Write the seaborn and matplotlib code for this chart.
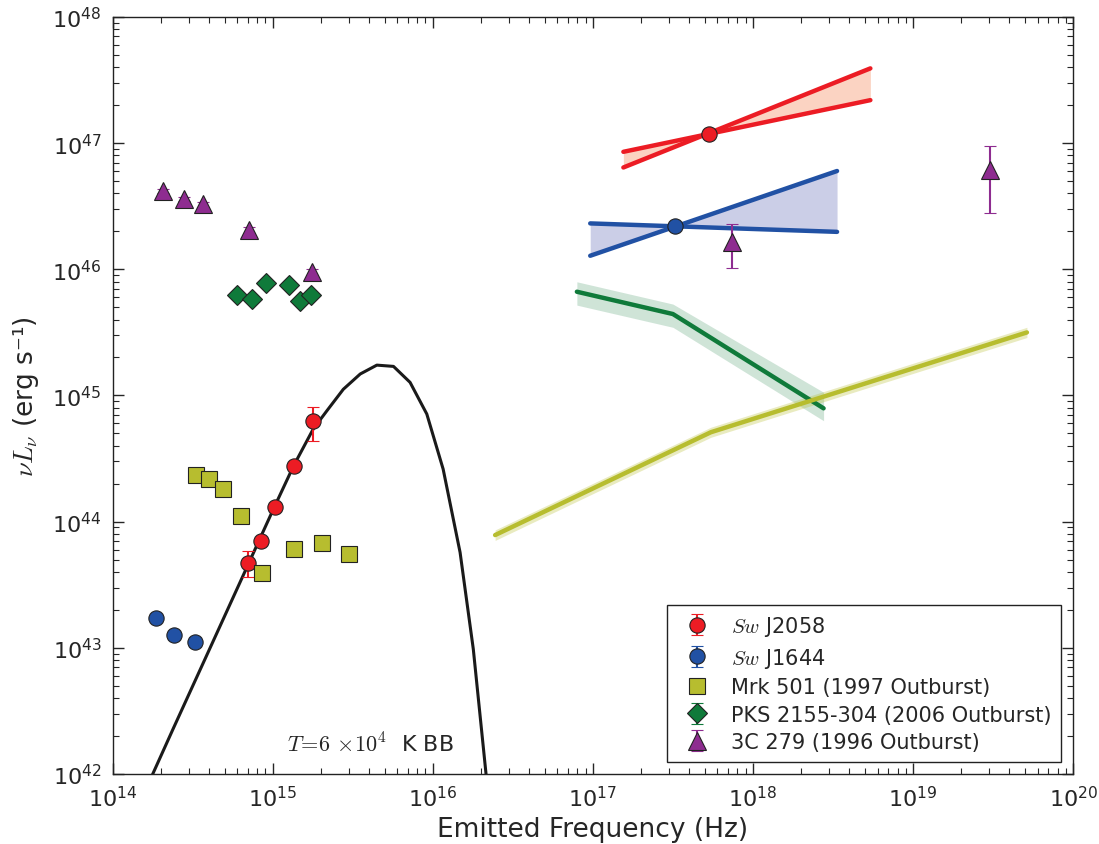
import numpy as np
import pandas as pd
import seaborn as sns
import matplotlib.pyplot as plt
from matplotlib.ticker import NullFormatter

# Sw J2058 optical/UV points
j2058_x = [7.05e14, 8.45e14, 1.03e15, 1.35e15, 1.78e15]
j2058_y = [4.70e43, 6.98e43, 1.31e44, 2.77e44, 6.31e44]
j2058_lo = [1.06e43, 5e42, 9e42, 2e43, 1.96e44]
j2058_hi = [1.12e43, 5e42, 9e42, 2e43, 1.84e44]
# Sw J2058 X-ray point + bowtie
j2058_xr_x = [5.31e17]
j2058_xr_y = [1.19e47]
j2058_bow_x = [1.55e17, 5.41e18]
j2058_bow_a = [8.53e46, 2.19e47]
j2058_bow_b = [6.41e46, 3.91e47]

# Sw J1644
j1644_x = [1.86e14, 2.43e14, 3.27e14]
j1644_y = [1.73e43, 1.26e43, 1.11e43]
j1644_err = [1e42, 1e42, 1e42]
j1644_xr_x = [3.27e17]
j1644_xr_y = [2.19e46]
j1644_bow_x = [9.62e16, 3.35e18]
j1644_bow_a = [2.31e46, 1.98e46]
j1644_bow_b = [1.28e46, 6.01e46]

# Mrk 501 (1997)
mrk_x = [3.33e14, 4.00e14, 4.89e14, 6.31e14, 8.57e14, 1.36e15, 2.03e15, 3.00e15]
mrk_y = [2.36e44, 2.19e44, 1.82e44, 1.11e44, 3.89e43, 6.10e43, 6.73e43, 5.51e43]
mrk_xr_x = [2.45e16, 5.45e17, 5.14e19]
mrk_xr_y = [7.83e43, 5.11e44, 3.16e45]
mrk_xr_hi = [8.6e43, 5.6e44, 3.47e45]
mrk_xr_lo = [7.1e43, 4.66e44, 2.88e45]

# PKS 2155-304 (2006)
pks_x = [6.01e14, 7.43e14, 9.08e14, 1.27e15, 1.47e15, 1.73e15]
pks_y = [6.25e45, 5.81e45, 7.73e45, 7.50e45, 5.57e45, 6.25e45]
pks_err = [3e44, 3e44, 3e44, 3e44, 3e44, 3e44]
pks_xr_x = [7.94e16, 3.16e17, 2.76e18]
pks_xr_y = [6.64e45, 4.42e45, 7.91e44]
pks_xr_hi = [7.96e45, 5.30e45, 1.06e45]
pks_xr_lo = [5.20e45, 3.47e45, 6.31e44]

# 3C 279 (1996)
c279_x = [2.06e14, 2.78e14, 3.66e14, 7.14e14, 1.76e15, 7.35e17, 3.01e19]
c279_y = [4.17e46, 3.61e46, 3.29e46, 2.05e46, 9.55e45, 1.65e46, 6.15e46]
c279_lo = [1.5e45, 1.5e45, 1.5e45, 1e45, 5e44, 6.3e45, 3.38e46]
c279_hi = [1.5e45, 1.5e45, 1.5e45, 1e45, 5e44, 6.3e45, 3.38e46]

# T = 6e4 K blackbody curve
bb_x = [1.58e14, 1.78e14, 2.39e14, 3.87e14, 6.25e14, 1.01e15, 1.35e15, 1.79e15,
        2.18e15, 2.76e15, 3.52e15, 4.47e15, 5.68e15, 7.21e15, 9.17e15, 1.16e16,
        1.48e16, 1.79e16, 2.15e16, 2.21e16]
bb_y = [7.4e41, 1.0e42, 2.29e42, 8.73e42, 3.31e43, 1.26e44, 2.77e44, 5.42e44,
        7.57e44, 1.12e45, 1.48e45, 1.74e45, 1.70e45, 1.27e45, 7.13e44, 2.61e44,
        5.71e43, 9.77e42, 1.0e42, 7.0e41]

c_red = '#ec1c24'
c_blue = '#2151a4'
c_yel = '#b7bd2f'
c_grn = '#0f7a3a'
c_pur = '#8e2c90'

sns.set_style('ticks')
plt.rcParams['font.family'] = ['DejaVu Sans']
plt.rcParams['mathtext.fontset'] = 'dejavusans'

fig = plt.figure(figsize=(10.99, 8.45), dpi=100)
ax = fig.add_axes([0.1025, 0.0828, 0.874, 0.896])
ax.set_xscale('log')
ax.set_yscale('log')

# blackbody
bb = pd.DataFrame({'x': bb_x, 'y': bb_y})
sns.lineplot(data=bb, x='x', y='y', ax=ax, color='#1a1a1a', lw=2.2,
             sort=False, estimator=None, zorder=2)

# X-ray bowties
ax.fill_between(j2058_bow_x, j2058_bow_a, j2058_bow_b, color='#fbd3c2', lw=0, zorder=1)
sns.lineplot(x=j2058_bow_x, y=j2058_bow_a, ax=ax, color=c_red, lw=3.2, zorder=3)
sns.lineplot(x=j2058_bow_x, y=j2058_bow_b, ax=ax, color=c_red, lw=3.2, zorder=3)
ax.fill_between(j1644_bow_x, j1644_bow_a, j1644_bow_b, color='#cbcee7', lw=0, zorder=1)
sns.lineplot(x=j1644_bow_x, y=j1644_bow_a, ax=ax, color=c_blue, lw=3.2, zorder=3)
sns.lineplot(x=j1644_bow_x, y=j1644_bow_b, ax=ax, color=c_blue, lw=3.2, zorder=3)

# blazar X-ray spectra
ax.fill_between(pks_xr_x, pks_xr_lo, pks_xr_hi, color=c_grn, alpha=0.2, lw=0, zorder=1)
sns.lineplot(x=pks_xr_x, y=pks_xr_y, ax=ax, color=c_grn, lw=3.2, zorder=3)
ax.fill_between(mrk_xr_x, mrk_xr_lo, mrk_xr_hi, color=c_yel, alpha=0.3, lw=0, zorder=1)
sns.lineplot(x=mrk_xr_x, y=mrk_xr_y, ax=ax, color=c_yel, lw=3.2, zorder=3)

mk = dict(ls='none', mec='#222222', mew=0.8, capsize=4, elinewidth=1.5,
          capthick=1.5, zorder=5)
h1 = ax.errorbar(j2058_x, j2058_y, yerr=[j2058_lo, j2058_hi], fmt='o', ms=11,
                 color=c_red, mfc=c_red, **mk)
ax.errorbar(j2058_xr_x, j2058_xr_y, fmt='o', ms=11, color=c_red, mfc=c_red, **mk)
h2 = ax.errorbar(j1644_x, j1644_y, yerr=j1644_err, fmt='o', ms=11,
                 color=c_blue, mfc=c_blue, **mk)
ax.errorbar(j1644_xr_x, j1644_xr_y, fmt='o', ms=11, color=c_blue, mfc=c_blue, **mk)
h3 = ax.errorbar(mrk_x, mrk_y, fmt='s', ms=11, color=c_yel, mfc=c_yel, **mk)
h4 = ax.errorbar(pks_x, pks_y, yerr=pks_err, fmt='D', ms=10, color=c_grn,
                 mfc=c_grn, **mk)
h5 = ax.errorbar(c279_x, c279_y, yerr=[c279_lo, c279_hi], fmt='^', ms=12.5,
                 color=c_pur, mfc=c_pur, **mk)

ax.text(4.06e15, 1.73e42, r'$T\!=\!6\,\times\!10^4$  K BB', fontsize=16,
        ha='center', va='center', math_fontfamily='cm')

ax.set_xlim(1e14, 1e20)
ax.set_ylim(1e42, 1e48)
ax.set_xlabel('Emitted Frequency (Hz)', fontsize=19, labelpad=4)
ax.set_ylabel(r'$\nu L_\nu$ (erg s⁻¹)', fontsize=19, labelpad=8,
              math_fontfamily='cm')
ax.xaxis.set_minor_formatter(NullFormatter())
ax.yaxis.set_minor_formatter(NullFormatter())
ax.tick_params(which='both', direction='in', top=True, right=True,
               labelsize=16, pad=8)
ax.tick_params(which='major', length=8, width=1)
ax.tick_params(which='minor', length=4, width=0.8)
for s in ax.spines.values():
    s.set_linewidth(1)
    s.set_color('#222222')

leg = ax.legend([h1, h2, h3, h4, h5],
                ['$Sw$ J2058', '$Sw$ J1644', 'Mrk 501 (1997 Outburst)',
                 'PKS 2155-304 (2006 Outburst)', '3C 279 (1996 Outburst)'],
                loc='lower right', fontsize=15, fancybox=False, framealpha=1,
                edgecolor='#222222', handlelength=2.0, handletextpad=0.6,
                labelspacing=0.36, borderpad=0.45, borderaxespad=0.6)
leg.get_frame().set_linewidth(1)
for t in leg.get_texts():
    t.set_math_fontfamily('cm')

fig.savefig('out.png', dpi=100)
